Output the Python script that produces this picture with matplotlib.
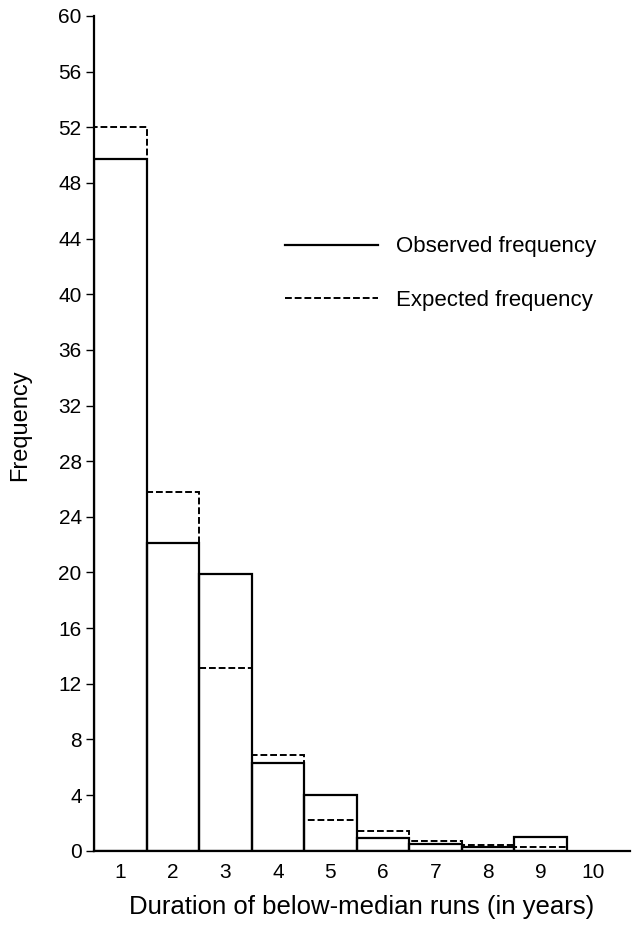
"""
Observed vs expected frequency of below-median run durations.
"""

import matplotlib
matplotlib.use("Agg")
import matplotlib.pyplot as plt
from matplotlib.lines import Line2D

# Data
durations = [1, 2, 3, 4, 5, 6, 7, 8, 9]
observed = [49.7, 22.1, 19.9, 6.3, 4.0, 0.9, 0.5, 0.3, 1.0]
expected = [52.0, 25.8, 13.1, 6.9, 2.2, 1.4, 0.7, 0.4, 0.3]
xTicks = [1, 2, 3, 4, 5, 6, 7, 8, 9, 10]
yTicks = list(range(0, 61, 4))

DASH = (0, (3.5, 1.5))

plt.rcParams["font.family"] = ["Liberation Sans", "DejaVu Sans"]

fig = plt.figure(figsize=(6.36, 9.4), dpi=100)
ax = fig.add_axes([0.148, 0.095, 0.842, 0.888])

# Expected frequency: dashed outline, drawn first so the solid bars sit on top
ax.bar(durations, expected, width=1.0, fill=False, edgecolor="black",
       linestyle=DASH, linewidth=1.4, zorder=2)
# Observed frequency: solid outline
ax.bar(durations, observed, width=1.0, fill=False, edgecolor="black",
       linewidth=1.6, zorder=3)

ax.set_xlim(0.5, 10.7)
ax.set_ylim(0, 60)
ax.set_xticks(xTicks)
ax.set_yticks(yTicks)
ax.tick_params(axis="both", direction="out", length=6, width=1.0,
               labelsize=15, colors="black")
ax.tick_params(axis="x", length=0, pad=9)
ax.tick_params(axis="y", pad=3)

for side in ["top", "right"]:
    ax.spines[side].set_visible(False)
for side in ["left", "bottom"]:
    ax.spines[side].set_linewidth(1.6)

ax.set_ylabel("Frequency", fontsize=17)
ax.yaxis.set_label_coords(-0.118, 0.51)
ax.set_xlabel("Duration of below-median runs (in years)", fontsize=18.5, labelpad=9)

handles = [Line2D([], [], color="black", linewidth=1.6),
           Line2D([], [], color="black", linewidth=1.4, linestyle=DASH)]
ax.legend(handles, ["Observed frequency", "Expected frequency"],
          loc="upper left", bbox_to_anchor=(0.356, 0.736), frameon=False,
          borderaxespad=0, borderpad=0,
          fontsize=16, handlelength=4.2, handletextpad=0.8, labelspacing=1.48)

fig.savefig("out.png", dpi=100)
